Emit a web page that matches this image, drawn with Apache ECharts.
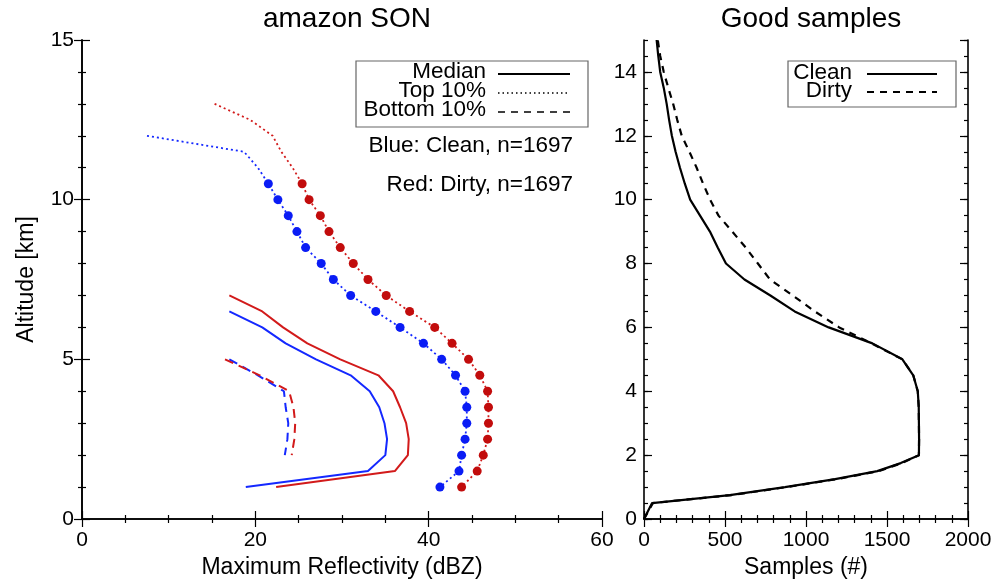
<!DOCTYPE html>
<html>
<head>
<meta charset="utf-8">
<script src="https://cdn.jsdelivr.net/npm/echarts@6/dist/echarts.min.js"></script>
<style>
  html, body { margin: 0; padding: 0; background: #fff; }
  #chart { width: 996px; height: 584px; }
</style>
</head>
<body>
<div id="chart"></div>
<script>
// ---- Left panel: maximum reflectivity profiles (dBZ) vs altitude (km) ----
const cleanTopAlt = [12.0, 11.5, 11.0, 10.5, 10.0, 9.5, 9.0, 8.5, 8.0, 7.5, 7.0, 6.5, 6.0, 5.5, 5.0, 4.5, 4.0, 3.5, 3.0, 2.5, 2.0, 1.5, 1.0];
const cleanTopDbz = [7.5, 18.7, 20.3, 21.5, 22.6, 23.8, 24.8, 25.8, 27.6, 29.0, 31.0, 33.9, 36.7, 39.4, 41.5, 43.1, 44.2, 44.4, 44.4, 44.2, 43.8, 43.5, 41.3];

const dirtyTopAlt = [13.0, 12.5, 12.0, 11.5, 11.0, 10.5, 10.0, 9.5, 9.0, 8.5, 8.0, 7.5, 7.0, 6.5, 6.0, 5.5, 5.0, 4.5, 4.0, 3.5, 3.0, 2.5, 2.0, 1.5, 1.0];
const dirtyTopDbz = [15.3, 19.4, 22.0, 23.0, 24.3, 25.4, 26.2, 27.5, 28.5, 29.8, 31.3, 33.0, 35.1, 37.8, 40.7, 42.7, 44.6, 45.9, 46.8, 46.9, 46.9, 46.8, 46.3, 45.6, 43.8];

const cleanMedAlt = [6.5, 6.0, 5.5, 5.0, 4.5, 4.0, 3.5, 3.0, 2.5, 2.0, 1.5, 1.0];
const cleanMedDbz = [17.0, 20.8, 23.5, 27.0, 31.0, 33.2, 34.3, 34.9, 35.2, 35.0, 33.0, 18.9];

const dirtyMedAlt = [7.0, 6.5, 6.0, 5.5, 5.0, 4.5, 4.0, 3.5, 3.0, 2.5, 2.0, 1.5, 1.0];
const dirtyMedDbz = [17.0, 20.8, 23.2, 26.0, 29.8, 34.2, 35.9, 36.7, 37.4, 37.7, 37.6, 36.1, 22.4];

const cleanBotAlt = [5.0, 4.5, 4.0, 3.5, 3.0, 2.5, 2.0];
const cleanBotDbz = [17.0, 20.3, 23.3, 23.5, 23.8, 23.7, 23.4];

const dirtyBotAlt = [5.0, 4.5, 4.0, 3.5, 3.0, 2.5, 2.0];
const dirtyBotDbz = [16.5, 20.5, 23.9, 24.4, 24.6, 24.5, 24.2];

// Markers on the top-10% curves are drawn at and below this altitude
const markerTopAlt = 10.5;

// ---- Right panel: number of good samples vs altitude ----
const samplesAlt = [0, 0.5, 0.75, 1.0, 1.25, 1.5, 1.75, 2.0, 2.5, 3.0, 3.5, 4.0, 4.5, 5.0, 5.5, 6.0, 6.5, 7.0, 7.5, 8.0, 8.5, 9.0, 9.5, 10.0, 10.5, 11.0, 11.5, 12.0, 12.5, 13.0, 13.5, 14.0, 14.5, 15.0];
const cleanSamples = [0, 50, 530, 870, 1180, 1440, 1585, 1697, 1698, 1697, 1696, 1690, 1662, 1595, 1410, 1140, 930, 780, 620, 506, 455, 407, 346, 285, 252, 222, 195, 172, 155, 140, 122, 100, 88, 78];
const dirtySamples = [0, 55, 540, 880, 1190, 1450, 1590, 1697, 1698, 1697, 1696, 1690, 1662, 1595, 1405, 1205, 1055, 918, 778, 703, 628, 545, 460, 408, 365, 325, 280, 233, 205, 180, 150, 122, 100, 85];

// ---- Axis tick settings ----
const refTicks = [0, 20, 40, 60];
const altTicksLeft = [0, 5, 10, 15];
const sampleTicks = [0, 500, 1000, 1500, 2000];

const FONT = 'Liberation Sans';
const BLUE = '#1428ff';
const RED = '#d21a1a';
const BLUE_DOT = '#0a1cf5';
const RED_DOT = '#c20c0c';
const TXT = 22.5;   // legend / annotation text size
const NAME = 23;    // axis name size
const TICK = 21;    // tick label size

const pairs = (xs, ys) => xs.map((x, i) => [x, ys[i]]);
const withMarkers = (dbz, alt) => dbz.map((v, i) => ({
  value: [v, alt[i]],
  symbol: alt[i] <= markerTopAlt ? 'circle' : 'none'
}));

const frameLine = { show: true, lineStyle: { color: '#000', width: 1.6 } };
// tick marks point into the plot area
const majorTick = { show: true, inside: false, length: -8, lineStyle: { color: '#000', width: 1.2 } };
const shortTick = { show: true, inside: false, length: -4, lineStyle: { color: '#000', width: 1.2 } };

function axis(o) {
  return Object.assign({
    type: 'value',
    axisLine: frameLine,
    axisTick: majorTick,
    minorTick: { show: false },
    splitLine: { show: false },
    axisLabel: { show: false },
    z: 10
  }, o);
}

const label = (margin) => ({ show: true, color: '#000', fontSize: TICK, fontFamily: FONT, margin: margin,
  formatter: (v) => String(v) });
const minor = (n) => ({ show: true, splitNumber: n, length: -4, lineStyle: { color: '#000', width: 1.2 } });
const nameStyle = { fontFamily: FONT, fontSize: NAME, color: '#000' };

function legendText(text, x, y) {
  return { type: 'text', z: 21, style: { text: text, x: x, y: y, align: 'right', verticalAlign: 'middle',
    textAlign: 'right', textVerticalAlign: 'middle', fontFamily: FONT, fontSize: TXT, fill: '#000' } };
}
function legendLine(x1, x2, y, width, dash) {
  return { type: 'line', z: 21, shape: { x1: x1, y1: y, x2: x2, y2: y },
    style: { stroke: '#000', lineWidth: width, lineDash: dash || null } };
}

const option = {
  animation: false,
  backgroundColor: '#fff',
  title: [
    { text: 'amazon SON', left: 342, top: 0, textAlign: 'center',
      textStyle: { fontFamily: FONT, fontSize: 28, fontWeight: 'normal', color: '#000' } },
    { text: 'Good samples', left: 806, top: 0, textAlign: 'center',
      textStyle: { fontFamily: FONT, fontSize: 28, fontWeight: 'normal', color: '#000' } }
  ],
  grid: [
    { left: 82, top: 40, width: 520, height: 479 },
    { left: 644, top: 40, width: 324, height: 479 }
  ],
  xAxis: [
    axis({ gridIndex: 0, position: 'bottom', min: refTicks[0], max: refTicks[refTicks.length - 1], interval: 20,
      minorTick: minor(4), axisLabel: label(11),
      name: 'Maximum Reflectivity (dBZ)', nameLocation: 'middle', nameGap: 35, nameTextStyle: nameStyle }),
    axis({ gridIndex: 0, position: 'top', min: refTicks[0], max: refTicks[refTicks.length - 1], interval: 20,
      minorTick: minor(4) }),
    axis({ gridIndex: 1, position: 'bottom', min: sampleTicks[0], max: sampleTicks[sampleTicks.length - 1], interval: 500,
      minorTick: minor(5), axisLabel: label(11),
      name: 'Samples (#)', nameLocation: 'middle', nameGap: 35, nameTextStyle: nameStyle }),
    axis({ gridIndex: 1, position: 'top', min: sampleTicks[0], max: sampleTicks[sampleTicks.length - 1], interval: 500,
      minorTick: minor(5) })
  ],
  yAxis: [
    axis({ gridIndex: 0, position: 'left', min: altTicksLeft[0], max: altTicksLeft[altTicksLeft.length - 1], interval: 5,
      minorTick: minor(5), axisLabel: label(8),
      name: 'Altitude [km]', nameLocation: 'middle', nameGap: 44, nameRotate: 90, nameTextStyle: nameStyle }),
    axis({ gridIndex: 0, position: 'right', min: 0, max: 15, interval: 5, minorTick: minor(5) }),
    // right panel: labelled ticks every 2 km, short ticks every 0.5 km
    axis({ gridIndex: 1, position: 'left', min: 0, max: 15, interval: 2,
      axisLabel: Object.assign(label(7), { showMaxLabel: false }) }),
    axis({ gridIndex: 1, position: 'left', min: 0, max: 15, interval: 0.5, axisLine: { show: false },
      axisTick: shortTick }),
    axis({ gridIndex: 1, position: 'right', min: 0, max: 15, interval: 2 }),
    axis({ gridIndex: 1, position: 'right', min: 0, max: 15, interval: 0.5, axisLine: { show: false },
      axisTick: shortTick })
  ],
  series: [
    { name: 'Clean top 10%', type: 'line', xAxisIndex: 0, yAxisIndex: 0,
      data: withMarkers(cleanTopDbz, cleanTopAlt), symbolSize: 9, showSymbol: true,
      itemStyle: { color: BLUE_DOT }, lineStyle: { color: BLUE, width: 1.8, type: [2, 3] } },
    { name: 'Dirty top 10%', type: 'line', xAxisIndex: 0, yAxisIndex: 0,
      data: withMarkers(dirtyTopDbz, dirtyTopAlt), symbolSize: 9, showSymbol: true,
      itemStyle: { color: RED_DOT }, lineStyle: { color: RED, width: 1.8, type: [2, 3] } },
    { name: 'Clean median', type: 'line', xAxisIndex: 0, yAxisIndex: 0,
      data: pairs(cleanMedDbz, cleanMedAlt), showSymbol: false,
      lineStyle: { color: BLUE, width: 2 } },
    { name: 'Dirty median', type: 'line', xAxisIndex: 0, yAxisIndex: 0,
      data: pairs(dirtyMedDbz, dirtyMedAlt), showSymbol: false,
      lineStyle: { color: RED, width: 2 } },
    { name: 'Clean bottom 10%', type: 'line', xAxisIndex: 0, yAxisIndex: 0,
      data: pairs(cleanBotDbz, cleanBotAlt), showSymbol: false,
      lineStyle: { color: BLUE, width: 2, type: [9, 6] } },
    { name: 'Dirty bottom 10%', type: 'line', xAxisIndex: 0, yAxisIndex: 0,
      data: pairs(dirtyBotDbz, dirtyBotAlt), showSymbol: false,
      lineStyle: { color: RED, width: 2, type: [9, 6] } },
    { name: 'Clean', type: 'line', xAxisIndex: 2, yAxisIndex: 2,
      data: pairs(cleanSamples, samplesAlt), showSymbol: false,
      lineStyle: { color: '#000', width: 2.2 } },
    { name: 'Dirty', type: 'line', xAxisIndex: 2, yAxisIndex: 2,
      data: pairs(dirtySamples, samplesAlt), showSymbol: false,
      lineStyle: { color: '#000', width: 2.2, type: [7, 6] } }
  ],
  graphic: [
    // left legend
    { type: 'rect', shape: { x: 356, y: 61, width: 232, height: 66 },
      style: { fill: '#fff', stroke: '#666', lineWidth: 1.2 }, z: 20 },
    legendText('Median', 486, 72),
    legendText('Top 10%', 486, 91),
    legendText('Bottom 10%', 486, 110),
    legendLine(498, 570, 74, 2),
    legendLine(498, 570, 93, 1.5, [1.5, 3]),
    legendLine(498, 570, 112, 1.5, [7, 6]),
    legendText('Blue: Clean, n=1697', 573, 146),
    legendText('Red: Dirty, n=1697', 573, 185),
    // right legend
    { type: 'rect', shape: { x: 788, y: 61, width: 168, height: 46 },
      style: { fill: '#fff', stroke: '#666', lineWidth: 1.2 }, z: 20 },
    legendText('Clean', 852, 73),
    legendText('Dirty', 852, 91),
    legendLine(867, 937, 74, 2),
    legendLine(867, 937, 92, 2, [7, 6])
  ]
};

const chart = echarts.init(document.getElementById('chart'), null, { renderer: 'canvas' });
chart.setOption(option);
</script>
</body>
</html>
